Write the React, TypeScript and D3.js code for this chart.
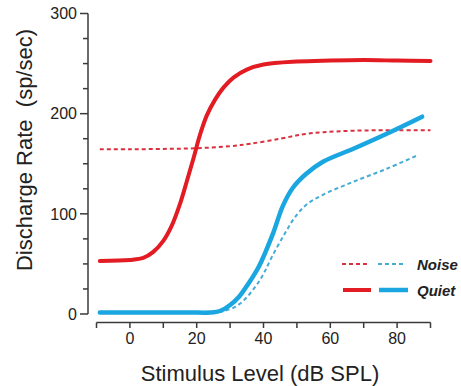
import React from "react";
import * as d3 from "d3";

const quietRed: [number, number][] = [
  [-9, 53], [0, 54], [4, 56], [7, 62], [10, 73], [12.5, 88], [15, 110], [17, 132],
  [19, 155], [21, 179], [23, 198], [25.5, 214], [28, 226], [31, 236], [35, 244],
  [40, 249], [50, 252], [60, 253], [70, 253.5], [80, 253], [90, 252.5],
];
const noiseRed: [number, number][] = [
  [-9, 164.5], [0, 164.5], [10, 164.8], [20, 165.5], [30, 167.5], [36, 170],
  [45, 175], [52, 179.5], [58, 181.5], [67, 183], [80, 183.5], [90, 183.5],
];
const quietBlue: [number, number][] = [
  [-9, 1.5], [0, 1.5], [10, 1.5], [18, 1.5], [24, 1.5], [27, 3], [30, 9],
  [32.6, 17], [35, 28], [38.7, 48], [42.8, 80], [45.8, 108], [48.8, 126],
  [52.8, 140], [57.8, 152], [66.9, 165], [76.9, 180], [87.5, 197],
];
const noiseBlue: [number, number][] = [
  [-9, 1.5], [0, 1.5], [10, 1.5], [18, 1.5], [25, 1.5], [28, 3], [31.5, 7],
  [34.5, 15], [37.5, 27], [40, 40], [42.5, 57], [46.5, 81], [49.5, 97],
  [52.8, 109], [57.8, 119], [66.9, 132], [76.9, 145], [86.5, 159],
];

const xTicks = [-10, 0, 10, 20, 30, 40, 50, 60, 70, 80, 90];
const xTickLabels = [0, 20, 40, 60, 80];
const yTicks = [0, 25, 50, 75, 100, 125, 150, 175, 200, 225, 250, 275, 300];
const yTickLabels = [0, 100, 200, 300];

const RED = "#e31b23";
const RED_DOT = "#d9303f";
const BLUE = "#1aa6e0";
const BLUE_DOT = "#45acd6";
const AXIS = "#3a3a3a";
const FONT = "'Liberation Sans', Arial, Helvetica, sans-serif";

export default function App() {
  const x = d3.scaleLinear().domain([-10, 90]).range([96.5, 430.5]);
  const y = d3.scaleLinear().domain([0, 300]).range([314, 13.5]);
  const line = d3
    .line<[number, number]>()
    .x((d) => x(d[0]))
    .y((d) => y(d[1]))
    .curve(d3.curveCatmullRom.alpha(0.5));
  const xAxisY = 322.5;
  const yAxisX = 88;

  return (
    <svg
      width={461}
      height={386}
      style={{ position: "absolute", left: 0, top: 0, background: "#fff" }}
      fontFamily={FONT}
    >
      <rect width={461} height={386} fill="#fff" />
      {/* curves */}
      <path d={line(noiseRed) || ""} fill="none" stroke={RED_DOT} strokeWidth={2} strokeDasharray="4 3" />
      <path d={line(noiseBlue) || ""} fill="none" stroke={BLUE_DOT} strokeWidth={2} strokeDasharray="4 3" />
      <path d={line(quietRed) || ""} fill="none" stroke={RED} strokeWidth={4} strokeLinecap="round" />
      <path d={line(quietBlue) || ""} fill="none" stroke={BLUE} strokeWidth={4.5} strokeLinecap="round" />

      {/* y axis */}
      <line x1={yAxisX} x2={yAxisX} y1={y(300)} y2={y(0)} stroke={AXIS} strokeWidth={1.5} />
      {yTicks.map((t) => (
        <line
          key={"yt" + t}
          x1={yAxisX - (t % 100 === 0 ? 8 : 5)}
          x2={yAxisX}
          y1={y(t)}
          y2={y(t)}
          stroke={AXIS}
          strokeWidth={1.5}
        />
      ))}
      {yTickLabels.map((t) => (
        <text key={"yl" + t} x={77} y={y(t) + 5.8} textAnchor="end" fontSize={16} fill="#222">
          {t}
        </text>
      ))}

      {/* x axis */}
      <line x1={x(-10)} x2={x(90)} y1={xAxisY} y2={xAxisY} stroke={AXIS} strokeWidth={1.5} />
      {xTicks.map((t) => (
        <line key={"xt" + t} x1={x(t)} x2={x(t)} y1={xAxisY} y2={xAxisY + 5.5} stroke={AXIS} strokeWidth={1.5} />
      ))}
      {xTickLabels.map((t) => (
        <text key={"xl" + t} x={x(t)} y={343.5} textAnchor="middle" fontSize={16} fill="#222">
          {t}
        </text>
      ))}

      {/* axis titles */}
      <text x={260} y={381} textAnchor="middle" fontSize={22} fill="#222">
        Stimulus Level (dB SPL)
      </text>
      <text
        transform="translate(32,150) rotate(-90)"
        textAnchor="middle"
        fontSize={22}
        fill="#222"
        style={{ whiteSpace: "pre" }}
      >
        {"Discharge Rate  (sp/sec)"}
      </text>

      {/* legend */}
      <line x1={342} x2={370} y1={264} y2={264} stroke={RED_DOT} strokeWidth={2} strokeDasharray="4 3" />
      <line x1={378} x2={406} y1={264} y2={264} stroke={BLUE_DOT} strokeWidth={2} strokeDasharray="4 3" />
      <line x1={343} x2={371} y1={290} y2={290} stroke={RED} strokeWidth={4} />
      <line x1={379} x2={408} y1={290} y2={290} stroke={BLUE} strokeWidth={4.5} />
      <text x={417} y={269.5} fontSize={15} fontWeight="bold" fontStyle="italic" fill="#222">
        Noise
      </text>
      <text x={417} y={295.5} fontSize={15} fontWeight="bold" fontStyle="italic" fill="#222">
        Quiet
      </text>
    </svg>
  );
}
